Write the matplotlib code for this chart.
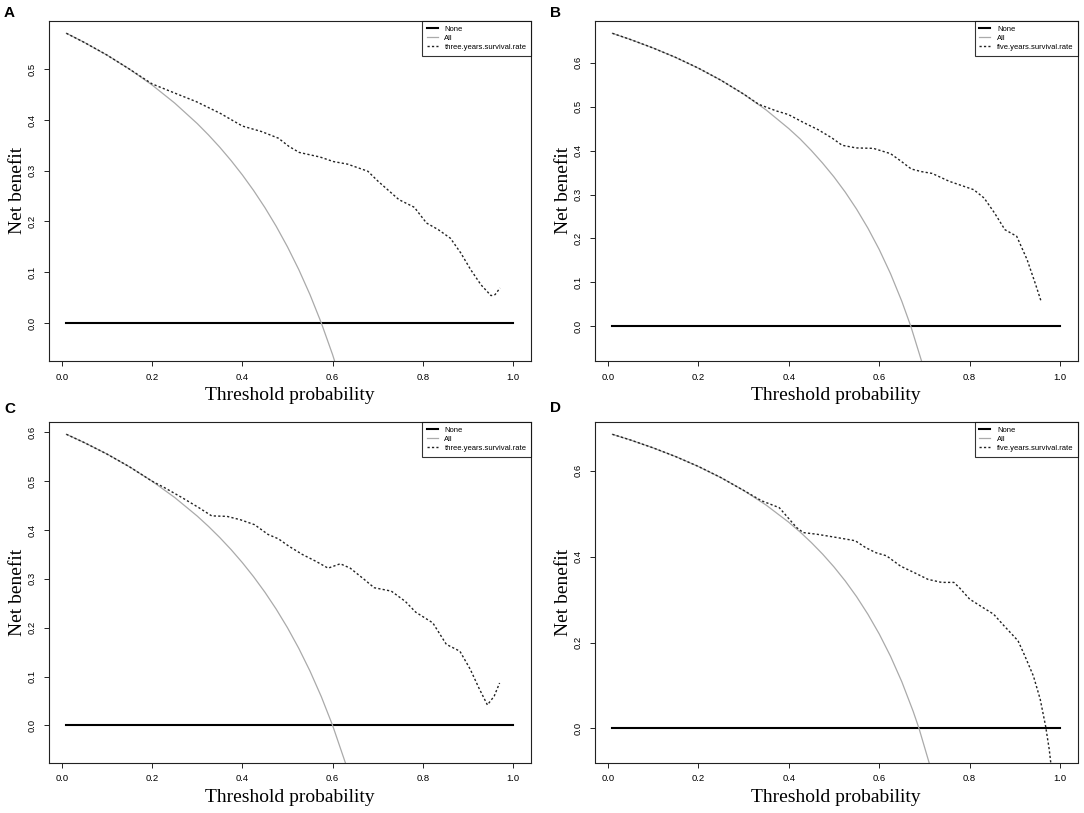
import matplotlib
matplotlib.use("Agg")
import matplotlib.pyplot as plt

# ---- data ----
none_x = [0.01, 1.0]
none_y = [0.0, 0.0]

# panel A (three years)
all_x_a = [0.01, 0.05, 0.1, 0.15, 0.2, 0.25, 0.3, 0.325, 0.35, 0.375, 0.4, 0.425, 0.45, 0.475, 0.5, 0.525, 0.55, 0.575, 0.6, 0.62]
all_y_a = [0.5707, 0.5526, 0.5278, 0.5000, 0.4688, 0.4333, 0.3929, 0.3704, 0.3462, 0.3200, 0.2917, 0.2609, 0.2273, 0.1905, 0.1500, 0.1053, 0.0556, 0.0, -0.0625, -0.1184]
mod_x_a = [0.01, 0.05, 0.1, 0.15, 0.2, 0.25, 0.298, 0.351, 0.4, 0.443, 0.48, 0.503, 0.526, 0.572, 0.602, 0.633, 0.678, 0.701,
           0.747, 0.781, 0.808, 0.834, 0.861, 0.884, 0.906, 0.929, 0.951, 0.96, 0.971]
mod_y_a = [0.5707, 0.5526, 0.5278, 0.5000, 0.471, 0.453, 0.436, 0.413, 0.388, 0.377, 0.364, 0.348, 0.336, 0.327, 0.318, 0.313, 0.299, 0.279,
           0.243, 0.228, 0.197, 0.184, 0.167, 0.138, 0.105, 0.075, 0.054, 0.056, 0.069]

# panel B (five years)
all_x_b = [0.01, 0.05, 0.1, 0.15, 0.2, 0.25, 0.3, 0.35, 0.4, 0.425, 0.45, 0.475, 0.5, 0.525, 0.55, 0.575, 0.6, 0.625, 0.65, 0.67, 0.7]
all_y_b = [0.6667, 0.6526, 0.6333, 0.6118, 0.5875, 0.5600, 0.5286, 0.4923, 0.4500, 0.4265, 0.4000, 0.3712, 0.3400, 0.3053, 0.2667, 0.2235, 0.1750, 0.1200, 0.0571, 0.0, -0.1000]
mod_x_b = [0.01, 0.05, 0.1, 0.15, 0.2, 0.25, 0.3, 0.334, 0.373, 0.399, 0.434, 0.464, 0.495, 0.518, 0.549, 0.587, 0.625, 0.648,
           0.671, 0.694, 0.717, 0.755, 0.809, 0.832, 0.855, 0.878, 0.904, 0.927, 0.946, 0.958]
mod_y_b = [0.6667, 0.6526, 0.6333, 0.6118, 0.5875, 0.5600, 0.5286, 0.505, 0.490, 0.482, 0.463, 0.448, 0.429, 0.412, 0.406, 0.405, 0.393, 0.376,
           0.358, 0.352, 0.348, 0.330, 0.311, 0.292, 0.258, 0.220, 0.205, 0.152, 0.095, 0.057]

# panel C (three years)
all_x_c = [0.01, 0.05, 0.1, 0.15, 0.2, 0.25, 0.3, 0.325, 0.35, 0.375, 0.4, 0.425, 0.45, 0.475, 0.5, 0.525, 0.55, 0.575, 0.6, 0.63]
all_y_c = [0.5960, 0.5789, 0.5556, 0.5294, 0.5000, 0.4667, 0.4286, 0.4074, 0.3846, 0.3600, 0.3333, 0.3043, 0.2727, 0.2381, 0.2000, 0.1579, 0.1111, 0.0588, 0.0, -0.0811]
mod_x_c = [0.01, 0.05, 0.1, 0.15, 0.2, 0.229, 0.267, 0.305, 0.332, 0.366, 0.396, 0.427, 0.457, 0.48, 0.503, 0.533, 0.563, 0.59,
           0.617, 0.639, 0.67, 0.692, 0.73, 0.761, 0.784, 0.822, 0.852, 0.882, 0.905, 0.924, 0.943, 0.958, 0.97]
mod_y_c = [0.5960, 0.5789, 0.5556, 0.5294, 0.500, 0.486, 0.466, 0.445, 0.429, 0.428, 0.421, 0.411, 0.391, 0.382, 0.367, 0.350, 0.336, 0.322,
           0.331, 0.322, 0.299, 0.282, 0.275, 0.254, 0.232, 0.210, 0.166, 0.152, 0.115, 0.077, 0.042, 0.060, 0.087]

# panel D (five years)
all_x_d = [0.01, 0.05, 0.1, 0.15, 0.2, 0.25, 0.3, 0.35, 0.4, 0.425, 0.45, 0.475, 0.5, 0.525, 0.55, 0.575, 0.6, 0.625, 0.65, 0.675, 0.688, 0.72]
all_y_d = [0.6848, 0.6716, 0.6533, 0.6329, 0.6100, 0.5840, 0.5543, 0.5200, 0.4800, 0.4574, 0.4327, 0.4057, 0.3760, 0.3432, 0.3067, 0.2658, 0.2200, 0.1680, 0.1086, 0.0400, 0.0, -0.1143]
mod_x_d = [0.01, 0.05, 0.1, 0.15, 0.2, 0.25, 0.3, 0.34, 0.379, 0.417, 0.432, 0.463, 0.509, 0.547, 0.57, 0.593, 0.616, 0.647,
           0.677, 0.708, 0.738, 0.765, 0.777, 0.8, 0.83, 0.853, 0.876, 0.907, 0.922, 0.941, 0.956, 0.968, 0.976, 0.981]
mod_y_d = [0.6848, 0.6716, 0.6533, 0.6329, 0.6100, 0.5840, 0.5543, 0.530, 0.514, 0.468, 0.456, 0.452, 0.444, 0.437, 0.421, 0.409, 0.402, 0.378,
           0.363, 0.347, 0.340, 0.340, 0.328, 0.301, 0.281, 0.266, 0.239, 0.204, 0.169, 0.122, 0.068, 0.005, -0.049, -0.095]

x_ticks = [0.0, 0.2, 0.4, 0.6, 0.8, 1.0]

panels = [
    # letter, all x/y, model x/y, model label, ylim, yticks
    ("A", all_x_a, all_y_a, mod_x_a, mod_y_a, "three.years.survival.rate", (-0.0748, 0.5955), [0.0, 0.1, 0.2, 0.3, 0.4, 0.5]),
    ("B", all_x_b, all_y_b, mod_x_b, mod_y_b, "five.years.survival.rate", (-0.0787, 0.6954), [0.0, 0.1, 0.2, 0.3, 0.4, 0.5, 0.6]),
    ("C", all_x_c, all_y_c, mod_x_c, mod_y_c, "three.years.survival.rate", (-0.0758, 0.6218), [0.0, 0.1, 0.2, 0.3, 0.4, 0.5, 0.6]),
    ("D", all_x_d, all_y_d, mod_x_d, mod_y_d, "five.years.survival.rate", (-0.0794, 0.7142), [0.0, 0.2, 0.4, 0.6]),
]

W, H = 1084, 813
fig = plt.figure(figsize=(W / 100, H / 100), dpi=100)

# axes boxes in pixels: left, top, right, bottom
boxes = [(48.5, 20.7, 531, 361), (594.5, 20.7, 1078, 361),
         (48.5, 421.7, 531, 762.5), (594.5, 421.7, 1078, 762.5)]
letter_pos = [(4, 17), (550, 17), (4, 413), (550, 412)]

serif = "Liberation Serif"
sans = "Liberation Sans"

for (letter, ax_, ay_, mx_, my_, mlab, ylim, yticks), (l, t, r, b), (lx, ly) in zip(panels, boxes, letter_pos):
    ax = fig.add_axes([l / W, 1 - b / H, (r - l) / W, (b - t) / H])
    ax.plot(none_x, none_y, color="black", lw=1.5, label="None")
    ax.plot(ax_, ay_, color="#aaaaaa", lw=0.9, label="All")
    ax.plot(mx_, my_, color="#222222", lw=1.0, dashes=(1.6, 1.6), label=mlab)

    ax.set_xlim(-0.0296, 1.0396)
    ax.set_ylim(*ylim)
    ax.set_xticks(x_ticks)
    ax.set_xticklabels(["%.1f" % v for v in x_ticks], fontfamily=sans, fontsize=6.8)
    ax.set_yticks(yticks)
    ax.set_yticklabels(["%.1f" % v for v in yticks], fontfamily=sans, fontsize=6.8,
                       rotation=90, va="center")
    ax.tick_params(length=3.5, width=0.7, pad=5, color="#222222")
    for sp in ax.spines.values():
        sp.set_linewidth(0.8)
        sp.set_color("#222222")

    ax.set_xlabel("Threshold probability", fontfamily=serif, fontsize=14, labelpad=4)
    ax.set_ylabel("Net benefit", fontfamily=serif, fontsize=14, labelpad=1)

    leg = ax.legend(loc="upper right", borderaxespad=0, fancybox=False,
                    prop={"family": sans, "size": 5.5}, handlelength=1.4,
                    handletextpad=0.9, borderpad=0.6, labelspacing=0.25)
    leg.get_frame().set_edgecolor("black")
    leg.get_frame().set_linewidth(0.8)

    fig.text(lx / W, 1 - ly / H, letter, fontfamily=sans, fontweight="bold",
             fontsize=11, ha="left", va="baseline")

fig.savefig("out.png", dpi=100)
